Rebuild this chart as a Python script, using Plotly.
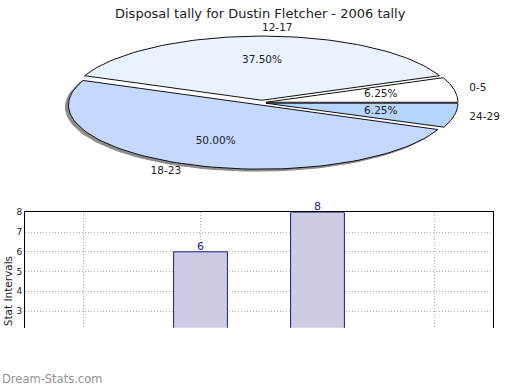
import numpy as np
import plotly.graph_objects as go

W, H = 520, 390

# ---- data ----
categories = ["0-5", "12-17", "18-23", "24-29"]
values = [1, 6, 8, 1]
chart_title = "Disposal tally for Dustin Fletcher - 2006 tally"
y_title = "Stat Intervals"
watermark = "Dream-Stats.com"
y_ticks = [3, 4, 5, 6, 7, 8]

# ---- style ----
slice_colors = ["#FFFFFF", "#EAF2FF", "#C5D8FF", "#B5D5FF"]
shadow_slices = ["18-23"]
cx, cy, rx, ry = 262, 99, 192, 65
explode_x, explode_y = 4, 2.5
FONT = "DejaVu Sans"
BAR_TEXT = "#1A1A8C"

fig = go.Figure()

# ---- bar chart ----
fig.add_trace(go.Bar(x=categories, y=values, width=0.46,
                     marker=dict(color="#CCCCE2", line=dict(color=BAR_TEXT, width=1)),
                     xaxis="x", yaxis="y", hoverinfo="x+y"))
for c, v in zip(categories, values):
    fig.add_annotation(x=c, y=v, xref="x", yref="y", text=str(v), showarrow=False,
                       xanchor="center", yanchor="bottom", yshift=-3,
                       font=dict(family=FONT, size=11, color=BAR_TEXT))

# ---- elliptical exploded pie drawn on a pixel-unit overlay axis ----
total = float(sum(values))
start = 0.0
pct_x, pct_y, pct_t = [], [], []
lab_x, lab_y, lab_t, lab_pos = [], [], [], []
slices = []
for cat, v, col in zip(categories, values, slice_colors):
    a0 = start
    a1 = start + v / total * 2 * np.pi
    start = a1
    m = (a0 + a1) / 2
    ox = explode_x * np.cos(m)
    oy = -explode_y * np.sin(m)
    t = np.linspace(a0, a1, 80)
    xs = np.concatenate([[cx + ox], cx + ox + rx * np.cos(t), [cx + ox]])
    ys = np.concatenate([[cy + oy], cy + oy - ry * np.sin(t), [cy + oy]])
    slices.append((cat, xs, ys, col))
    pct_x.append(cx + ox + 0.61 * rx * np.cos(m))
    pct_y.append(cy + oy - 0.62 * ry * np.sin(m))
    pct_t.append(f"{v / total * 100:.2f}%")
    lab_x.append(cx + ox + 1.08 * rx * np.cos(m))
    lab_y.append(cy + oy - 1.12 * ry * np.sin(m))
    lab_t.append(cat)
    lab_pos.append("middle right" if np.cos(m) >= -1e-9 else "middle left")

for cat, xs, ys, col in slices:
    if cat in shadow_slices:
        fig.add_trace(go.Scatter(x=xs - 3, y=ys + 2, mode="lines", fill="toself",
                                 fillcolor="#8c8c8c", line=dict(color="#8c8c8c", width=1),
                                 xaxis="x2", yaxis="y2", hoverinfo="skip"))
for cat, xs, ys, col in slices:
    fig.add_trace(go.Scatter(x=xs, y=ys, mode="lines", fill="toself",
                             fillcolor=col, line=dict(color="#111111", width=1),
                             xaxis="x2", yaxis="y2", hoverinfo="skip"))

fig.add_trace(go.Scatter(x=pct_x, y=pct_y, text=pct_t, mode="text",
                         textfont=dict(family=FONT, size=10.5, color="#222222"),
                         xaxis="x2", yaxis="y2", hoverinfo="skip"))
fig.add_trace(go.Scatter(x=lab_x, y=lab_y, text=lab_t, mode="text",
                         textposition=lab_pos,
                         textfont=dict(family=FONT, size=10.5, color="#222222"),
                         xaxis="x2", yaxis="y2", hoverinfo="skip", cliponaxis=False))

plot_left, plot_right, plot_top, plot_bottom = 25, 493, 210, 327
y_per_px = 20.0
y_top = 8
y_bottom = y_top - (plot_bottom - plot_top) / y_per_px

grid = dict(showgrid=True, gridcolor="#B0B0B0", griddash="1px,2px", gridwidth=1)

fig.update_layout(
    width=W, height=H, autosize=False,
    margin=dict(l=0, r=0, t=0, b=0, pad=0),
    paper_bgcolor="white", plot_bgcolor="rgba(0,0,0,0)",
    showlegend=False,
    xaxis=dict(domain=[plot_left / W, plot_right / W], side="top", anchor="y",
               showline=True, linecolor="black", linewidth=1,
               showticklabels=False, ticks="",
               zeroline=False, fixedrange=True, **grid),
    yaxis=dict(domain=[1 - plot_bottom / H, 1 - plot_top / H], anchor="x",
               range=[y_bottom, y_top], tickvals=y_ticks,
               showline=True, mirror=True, linecolor="black", linewidth=1,
               ticks="", tickfont=dict(family=FONT, size=9, color="#222222"),
               zeroline=False, fixedrange=True, **grid),
    xaxis2=dict(domain=[0, 1], range=[0, W], visible=False, fixedrange=True,
                anchor="y2"),
    yaxis2=dict(domain=[0, 1], range=[H, 0], visible=False, fixedrange=True,
                anchor="x2"),
)

fig.add_annotation(text=chart_title, x=0.5, xref="paper", xanchor="center",
                   y=1 - 9 / H, yref="paper", yanchor="middle", showarrow=False,
                   font=dict(family=FONT, size=13, color="#222222"))
fig.add_annotation(text=y_title, x=8 / W, xref="paper", xanchor="center",
                   y=1 - 290 / H, yref="paper", yanchor="middle",
                   textangle=-90, showarrow=False,
                   font=dict(family=FONT, size=10.5, color="#222222"))
fig.add_annotation(text=watermark, x=0, xref="paper", xanchor="left",
                   y=1 - 379 / H, yref="paper", yanchor="middle", showarrow=False,
                   font=dict(family=FONT, size=11.5, color="#939393"))

fig.write_html("out.html", config={"displayModeBar": False},
               post_script="document.body.style.margin='0';document.body.style.overflow='hidden';")
